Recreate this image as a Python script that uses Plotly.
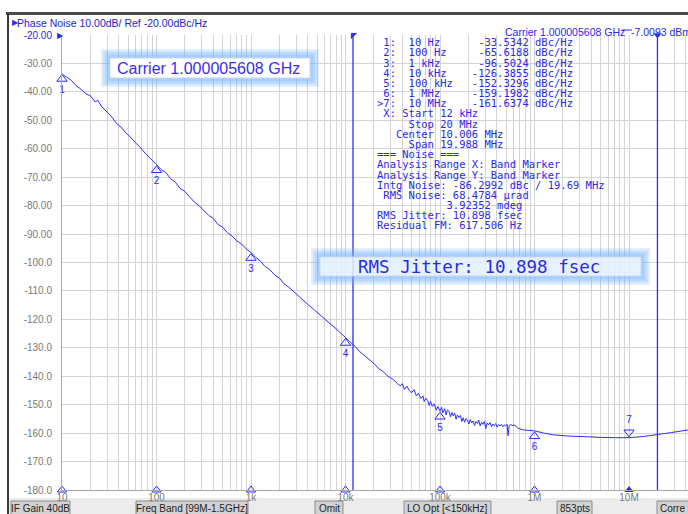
import math
import plotly.graph_objects as go

# ---------------- data ----------------
frequency_hz = [
    10, 10.5, 11.2, 12.6, 14.1, 15.8, 17.8, 20, 22.4, 24, 26.3, 30, 33, 38, 42, 48, 52, 60, 66, 76, 83, 91,
    100, 112, 126, 141, 158, 178, 200, 224, 251, 282, 316, 355, 398, 447, 501, 562, 631, 708, 794, 891,
    1000, 1120, 1260, 1410, 1580, 1780, 2000, 2240, 2510, 2820, 3160, 3550, 3980, 4470, 5010, 5620, 6310, 7080, 7940, 8910,
    10000, 11200, 12600, 14100, 15800, 17800, 20000, 22400, 25100, 28200, 31600, 35500,
    38000, 40000, 42000, 44700, 47000, 50100, 53000, 56200, 59000, 63100, 66000, 68000, 70800, 74000, 77000,
    79400, 83000, 87000, 91000, 95000,
    100000, 104000, 107000, 112000, 116000, 120000, 125000, 129000, 134000, 138000, 143000, 148000, 153000,
    158000, 165000, 170000, 176000, 182000, 188000, 195000, 202000, 209000, 216000, 224000, 232000, 240000,
    249000, 257000, 266000, 275000, 285000, 295000, 305000, 316000, 327000, 339000, 351000, 363000, 376000,
    389000, 403000, 417000, 432000, 447000, 463000, 479000, 495000, 513000, 525000, 540000, 560000, 590000,
    617000, 661000, 741000, 832000,
    1000000, 1260000, 1580000, 2240000, 3160000, 5010000, 7080000,
    10000000, 14100000, 20000000, 28200000, 42000000,
]
phase_noise_dbc = [
    -33.5, -34.3, -34.8, -36.0, -37.8, -39.0, -40.6, -41.4, -43.5, -43.0, -45.2, -47.0, -48.5, -51.2, -52.3, -54.6, -55.6, -57.9, -59.2, -61.6, -63.0, -64.3,
    -65.6, -67.3, -68.4, -70.6, -71.7, -74.0, -75.0, -76.9, -78.7, -80.0, -81.7, -83.4, -84.5, -86.6, -87.6, -89.5, -90.7, -92.4, -93.5, -95.2,
    -96.5, -98.2, -99.5, -101.4, -102.5, -104.4, -105.5, -107.5, -108.7, -110.3, -111.7, -113.2, -114.7, -116.1, -117.6, -119.0, -120.5, -121.9, -123.3, -124.8,
    -126.4, -128.0, -129.5, -131.3, -132.6, -134.2, -135.5, -137.3, -138.4, -140.0, -141.0, -142.6,
    -143.4, -142.6, -144.6, -143.5, -144.9, -145.8, -144.7, -146.9, -146.0, -147.8, -146.9, -148.9, -147.7, -148.5, -150.3,
    -148.9, -150.6, -149.7, -151.9, -150.6,
    -152.3, -150.9, -152.9, -151.4, -153.6, -151.8, -152.4, -154.3, -152.7, -153.9, -153.0, -155.1, -153.6,
    -154.5, -153.8, -155.9, -154.6, -156.2, -154.9, -155.4, -156.8, -155.2, -156.4, -155.7, -157.3, -155.9,
    -156.6, -155.4, -157.5, -156.2, -156.9, -155.9, -158.4, -156.4, -157.1, -156.3, -157.8, -156.8, -157.4,
    -156.6, -157.9, -157.0, -157.5, -156.9, -157.7, -157.1, -157.5, -156.9, -160.9, -157.3, -157.0, -157.4,
    -157.1, -158.2, -158.8, -159.0,
    -159.2, -160.0, -160.6, -161.0, -161.3, -161.5, -161.6,
    -161.6, -161.2, -160.6, -159.8, -158.9,
]

marker_freq_hz = [10, 100, 1e3, 1e4, 1e5, 1e6, 1e7]
marker_dbc = [-33.5342, -65.6188, -96.5024, -126.3855, -152.3296, -159.1982, -161.6374]
marker_freq_text = ["10 Hz", "100 Hz", "1 kHz", "10 kHz", "100 kHz", "1 MHz", "10 MHz"]
active_marker = 7

band_start_hz = 12e3
band_stop_hz = 20e6

ref_level_dbc = -20
scale_db_per_div = 10
n_divisions = 16

x_decades = [10, 100, 1e3, 1e4, 1e5, 1e6, 1e7]
x_tick_labels = ["10", "100", "1k", "10k", "100k", "1M", "10M"]
y_tick_values = [-180, -170, -160, -150, -140, -130, -120, -110, -100, -90, -80, -70, -60, -50, -40, -30, -20]
y_tick_labels = ["-180.0", "-170.0", "-160.0", "-150.0", "-140.0", "-130.0", "-120.0", "-110.0", "-100.0",
                 "-90.00", "-80.00", "-70.00", "-60.00", "-50.00", "-40.00", "-30.00", "-20.00"]

title_text = "Phase Noise 10.00dB/ Ref -20.00dBc/Hz"
carrier_text = "Carrier 1.000005608 GHz"
carrier_power_text = "-7.0093 dBm"
jitter_text = "RMS Jitter: 10.898 fsec"
info_lines = [
    " X: Start 12 kHz",
    "     Stop 20 MHz",
    "   Center 10.006 MHz",
    "     Span 19.988 MHz",
    "=== Noise ===",
    "Analysis Range X: Band Marker",
    "Analysis Range Y: Band Marker",
    "Intg Noise: -86.2992 dBc / 19.69 MHz",
    " RMS Noise: 68.4784 \u00b5rad",
    "           3.92352 mdeg",
    "RMS Jitter: 10.898 fsec",
    "Residual FM: 617.506 Hz",
]
status_items = ["IF Gain 40dB", "Freq Band [99M-1.5GHz]", "Omit", "LO Opt [<150kHz]", "853pts", "Corre 8"]
status_boxes_px = [(11, 70), (136, 248), (315, 343), (404, 491), (557, 592), (657, 700)]

# ---------------- geometry / style ----------------
W, H = 688, 514
PL, PR, PT, PB = 62, 688, 35, 490
X_MAX_LOG = 1 + (PR - PL) / 94.5
Y_MAX = ref_level_dbc
Y_MIN = ref_level_dbc - scale_db_per_div * n_divisions
DB_PER_PX = (Y_MAX - Y_MIN) / (PB - PT)

LINE_BLUE = "#2d2dff"
TEXT_BLUE = "#2a2ae8"
GRAY_TXT = "#7a7a7a"
GRID = "#d4d4d4"
MONO = "DejaVu Sans Mono"
SANS = "Liberation Sans"


def px(xp):
    return (xp - PL) / (PR - PL)


def py(yp):
    return (PB - yp) / (PB - PT)


def nb(s):
    return s.replace(" ", "\u00a0")


fig = go.Figure()

# band marker lines
for f in (band_start_hz, band_stop_hz):
    fig.add_trace(go.Scatter(x=[f, f], y=[Y_MIN, Y_MAX], mode="lines",
                             line=dict(color=LINE_BLUE, width=1.3), hoverinfo="skip",
                             showlegend=False, cliponaxis=False))

# phase noise trace
fig.add_trace(go.Scatter(x=frequency_hz, y=phase_noise_dbc, mode="lines",
                         line=dict(color=LINE_BLUE, width=1), hoverinfo="skip", showlegend=False))

# markers on trace
normal_idx = [i for i in range(len(marker_freq_hz)) if i + 1 != active_marker]
fig.add_trace(go.Scatter(
    x=[marker_freq_hz[i] for i in normal_idx],
    y=[marker_dbc[i] - 5.5 * DB_PER_PX for i in normal_idx],
    mode="markers+text",
    marker=dict(symbol="triangle-up-open", size=9, color=TEXT_BLUE, line=dict(width=1)),
    text=[str(i + 1) for i in normal_idx], textposition="bottom center",
    textfont=dict(family=SANS, size=10, color=TEXT_BLUE),
    hoverinfo="skip", showlegend=False, cliponaxis=False))
ai = active_marker - 1
fig.add_trace(go.Scatter(
    x=[marker_freq_hz[ai]], y=[marker_dbc[ai] + 5.5 * DB_PER_PX],
    mode="markers+text",
    marker=dict(symbol="triangle-down-open", size=9, color=TEXT_BLUE, line=dict(width=1)),
    text=[str(active_marker)], textposition="top center",
    textfont=dict(family=SANS, size=10, color=TEXT_BLUE),
    hoverinfo="skip", showlegend=False, cliponaxis=False))

# marker indicators on x axis
fig.add_trace(go.Scatter(
    x=[marker_freq_hz[i] for i in normal_idx], y=[Y_MIN] * len(normal_idx), mode="markers",
    marker=dict(symbol="triangle-up-open", size=8, color=TEXT_BLUE, line=dict(width=1)),
    hoverinfo="skip", showlegend=False, cliponaxis=False))
fig.add_trace(go.Scatter(
    x=[marker_freq_hz[ai]], y=[Y_MIN], mode="markers",
    marker=dict(symbol="triangle-up", size=8, color=TEXT_BLUE),
    hoverinfo="skip", showlegend=False, cliponaxis=False))

# band flags at top
fig.add_trace(go.Scatter(
    x=[band_start_hz], y=[Y_MAX], mode="markers",
    marker=dict(symbol="triangle-nw", size=7, color=LINE_BLUE),
    hoverinfo="skip", showlegend=False, cliponaxis=False))
fig.add_trace(go.Scatter(
    x=[band_stop_hz], y=[Y_MAX], mode="markers",
    marker=dict(symbol="triangle-down", size=7, color=LINE_BLUE),
    hoverinfo="skip", showlegend=False, cliponaxis=False))

# axis ticks (all 1..9 multiples for grid)
x_tickvals, x_ticktext = [], []
for d, lab in zip(x_decades + [1e8], x_tick_labels + [""]):
    for m in range(1, 10):
        x_tickvals.append(d * m)
        x_ticktext.append(lab if m == 1 else "")

y_ticktext = [("<span style='color:%s'>%s</span>" % (TEXT_BLUE, t)) if v == ref_level_dbc else t
              for v, t in zip(y_tick_values, y_tick_labels)]

shapes = []
annotations = []

# window frame
shapes.append(dict(type="line", xref="paper", yref="paper", x0=px(6), x1=px(700), y0=py(13.5), y1=py(13.5),
                   line=dict(color="#4a4a4a", width=3)))
shapes.append(dict(type="line", xref="paper", yref="paper", x0=px(8), x1=px(8), y0=py(13), y1=py(520),
                   line=dict(color="#3a3a3a", width=2)))

# status bar
shapes.append(dict(type="rect", xref="paper", yref="paper", x0=px(9), x1=px(700), y0=py(498), y1=py(520),
                   fillcolor="#ececec", line=dict(width=0), layer="below"))
for (a, b), label in zip(status_boxes_px, status_items):
    shapes.append(dict(type="rect", xref="paper", yref="paper", x0=px(a), x1=px(b), y0=py(501), y1=py(518),
                       fillcolor="#d2d2d2", line=dict(color="#8c8c8c", width=1)))
    if b < 690:
        annotations.append(dict(text=label, xref="paper", yref="paper", x=px((a + b) / 2), y=py(508),
                                xanchor="center", yanchor="middle", showarrow=False,
                                font=dict(family=SANS, size=10, color="#1e1e1e")))
    else:
        annotations.append(dict(text=label, xref="paper", yref="paper", x=px(a + 1), y=py(508),
                                xanchor="left", yanchor="middle", showarrow=False,
                                font=dict(family=SANS, size=10, color="#1e1e1e")))


def glow_box(x0, x1, y0, y1, fill, border):
    for e in (9, 7, 5, 3):
        shapes.append(dict(type="rect", xref="paper", yref="paper",
                           x0=px(x0 - e), x1=px(x1 + e), y0=py(y1 + e), y1=py(y0 - e),
                           fillcolor="rgba(110,175,255,0.20)", line=dict(width=0)))
    shapes.append(dict(type="rect", xref="paper", yref="paper", x0=px(x0), x1=px(x1), y0=py(y1), y1=py(y0),
                       fillcolor=fill, line=dict(color=border, width=1)))


glow_box(110, 310, 58, 78, "white", "#c8d8f0")
glow_box(320, 641, 257, 276, "rgba(255,255,255,0.72)", "#c8d8f0")

annotations.append(dict(text=carrier_text, xref="paper", yref="paper", x=px(115), y=py(69), xanchor="left",
                        yanchor="middle", showarrow=False, font=dict(family=SANS, size=16, color="#3a2ef0")))
annotations.append(dict(text=nb(jitter_text), xref="paper", yref="paper", x=px(356), y=py(266.5), xanchor="left",
                        yanchor="middle", showarrow=False, font=dict(family=MONO, size=17.5, color=TEXT_BLUE)))

# title row
annotations.append(dict(text="\u25b6", xref="paper", yref="paper", x=px(10), y=py(22.5), xanchor="left",
                        yanchor="middle", showarrow=False, font=dict(family="DejaVu Sans", size=8, color=TEXT_BLUE)))
annotations.append(dict(text=title_text, xref="paper", yref="paper", x=px(15), y=py(22.5), xanchor="left",
                        yanchor="middle", showarrow=False, font=dict(family=SANS, size=10.5, color="#2323c8")))
annotations.append(dict(text="\u25b6", xref="paper", yref="paper", x=px(55), y=py(35), xanchor="left",
                        yanchor="middle", showarrow=False, font=dict(family="DejaVu Sans", size=8, color=TEXT_BLUE)))
annotations.append(dict(text=carrier_text, xref="paper", yref="paper", x=px(503), y=py(31.5), xanchor="left",
                        yanchor="middle", showarrow=False, font=dict(family=SANS, size=10.5, color=TEXT_BLUE)))
annotations.append(dict(text=carrier_power_text, xref="paper", yref="paper", x=px(629), y=py(31.5), xanchor="left",
                        yanchor="middle", showarrow=False, font=dict(family=SANS, size=10.5, color=TEXT_BLUE)))
shapes.append(dict(type="line", xref="paper", yref="paper", x0=px(622), x1=px(632), y0=py(30), y1=py(30),
                   line=dict(color=TEXT_BLUE, width=1)))

# marker table + noise info
table_lines = []
for i, (lab, val) in enumerate(zip(marker_freq_text, marker_dbc), start=1):
    prefix = ">" if i == active_marker else " "
    table_lines.append("%s%d:  %-10s%9.4f dBc/Hz" % (prefix, i, lab, val))
table_lines += info_lines
for k, line in enumerate(table_lines):
    annotations.append(dict(text=nb(line), xref="paper", yref="paper", x=px(375), y=py(42.3 + 10.17 * k),
                            xanchor="left", yanchor="middle", showarrow=False,
                            font=dict(family=MONO, size=10.5, color=TEXT_BLUE)))

fig.update_layout(
    width=W, height=H,
    margin=dict(l=PL, r=W - PR, t=PT, b=H - PB, pad=0),
    paper_bgcolor="white", plot_bgcolor="white",
    showlegend=False,
    xaxis=dict(type="log", range=[1, X_MAX_LOG], tickvals=x_tickvals, ticktext=x_ticktext,
               showgrid=True, gridcolor=GRID, gridwidth=1, zeroline=False,
               showline=True, linecolor="#a8a8a8", linewidth=1, ticks="",
               tickfont=dict(family=SANS, size=10, color=GRAY_TXT), ticklabelstandoff=-2,
               fixedrange=True),
    yaxis=dict(range=[Y_MIN, Y_MAX], tickvals=y_tick_values, ticktext=y_ticktext,
               showgrid=True, gridcolor=GRID, gridwidth=1, zeroline=False,
               showline=True, linecolor="#a8a8a8", linewidth=1, ticks="",
               tickfont=dict(family=SANS, size=10, color=GRAY_TXT), ticklabelstandoff=7,
               fixedrange=True),
    shapes=shapes,
    annotations=annotations,
)

fig.write_html("out.html", config={"displayModeBar": False},
               post_script="document.body.style.margin='0';document.body.style.overflow='hidden';")
